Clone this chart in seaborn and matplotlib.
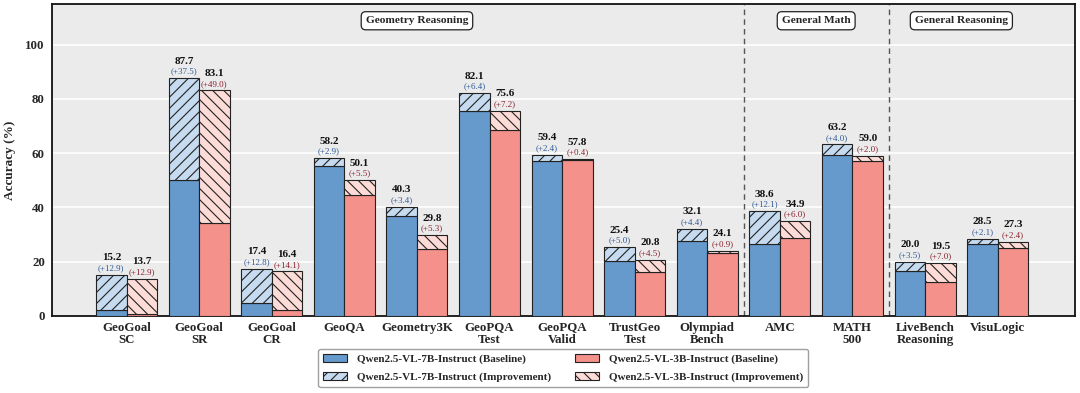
import numpy as np
import matplotlib
matplotlib.use("Agg")
import matplotlib.pyplot as plt
from matplotlib.patches import Patch
import seaborn as sns

# benchmark names (x tick labels)
benchmarks = ["GeoGoal\nSC", "GeoGoal\nSR", "GeoGoal\nCR", "GeoQA", "Geometry3K",
              "GeoPQA\nTest", "GeoPQA\nValid", "TrustGeo\nTest", "Olympiad\nBench",
              "AMC", "MATH\n500", "LiveBench\nReasoning", "VisuLogic"]

# final accuracy and gain over baseline
total_7b = [15.2, 87.7, 17.4, 58.2, 40.3, 82.1, 59.4, 25.4, 32.1, 38.6, 63.2, 20.0, 28.5]
gain_7b = [12.9, 37.5, 12.8, 2.9, 3.4, 6.4, 2.4, 5.0, 4.4, 12.1, 4.0, 3.5, 2.1]
total_3b = [13.7, 83.1, 16.4, 50.1, 29.8, 75.6, 57.8, 20.8, 24.1, 34.9, 59.0, 19.5, 27.3]
gain_3b = [12.9, 49.0, 14.1, 5.5, 5.3, 7.2, 0.4, 4.5, 0.9, 6.0, 2.0, 7.0, 2.4]

groups = ["Geometry Reasoning", "General Math", "General Reasoning"]
group_spans = [(0, 8), (9, 10), (11, 12)]

sns.set_theme(style="darkgrid", rc={"axes.facecolor": "#EBEBEB", "grid.color": "white",
                                     "grid.linewidth": 1.2})
plt.rcParams['font.family'] = ['Liberation Serif', 'DejaVu Serif']
plt.rcParams['font.weight'] = 'bold'
plt.rcParams['hatch.linewidth'] = 0.8

blue, blue_light, blue_txt = "#6699CC", "#C6DBEF", "#2F5A96"
red, red_light, red_txt = "#F4918A", "#FDDCD8", "#8B2230"

x = np.arange(len(benchmarks))
w = 0.42
base_7b = np.array(total_7b) - np.array(gain_7b)
base_3b = np.array(total_3b) - np.array(gain_3b)

fig, ax = plt.subplots(figsize=(10.8, 3.93), dpi=100)
fig.subplots_adjust(left=0.048, right=0.995, top=0.99, bottom=0.196)

ax.bar(x - w / 2, base_7b, w, color=blue, edgecolor="#222222", linewidth=0.8, zorder=3)
ax.bar(x - w / 2, gain_7b, w, bottom=base_7b, color=blue_light, edgecolor="#222222",
       hatch="///", linewidth=0.8, zorder=3)
ax.bar(x + w / 2, base_3b, w, color=red, edgecolor="#222222", linewidth=0.8, zorder=3)
ax.bar(x + w / 2, gain_3b, w, bottom=base_3b, color=red_light, edgecolor="#222222",
       hatch="\\\\\\", linewidth=0.8, zorder=3)

for xs, tot, gn, c in [(x - w / 2, total_7b, gain_7b, blue_txt), (x + w / 2, total_3b, gain_3b, red_txt)]:
    for xi, t, g in zip(xs, tot, gn):
        ax.annotate(f"(+{g:.1f})", (xi, t), xytext=(0, 4.8), textcoords="offset points",
                    ha="center", va="center", fontsize=6.5, color=c, fontweight="normal")
        ax.annotate(f"{t:.1f}", (xi, t), xytext=(0, 12.2), textcoords="offset points",
                    ha="center", va="center", fontsize=8, color="#111111", fontweight="bold")

for sep in [8.5, 10.5]:
    ax.axvline(sep, color="#555555", linestyle=(0, (4, 3)), linewidth=1, zorder=2)

for name, (a, b) in zip(groups, group_spans):
    ax.text((a + b) / 2, 108.8, name, ha="center", va="center", fontsize=8.2, fontweight="bold",
            bbox=dict(boxstyle="round,pad=0.4", fc="white", ec="#222222", lw=0.9))

ax.set_xlim(-1.03, 13.06)
ax.set_ylim(0, 115)
ax.set_yticks([0, 20, 40, 60, 80, 100])
ax.set_xticks(x)
ax.set_xticklabels(benchmarks, fontsize=9.3, fontweight="bold", linespacing=1.0)
ax.tick_params(axis="y", labelsize=9.3, length=0, pad=5)
ax.tick_params(axis="x", length=0, pad=4)
ax.set_ylabel("Accuracy (%)", fontsize=9.5, fontweight="bold", labelpad=7)
ax.grid(axis="x", visible=False)
ax.grid(axis="y", zorder=0)
for s in ax.spines.values():
    s.set_visible(True)
    s.set_color("#111111")
    s.set_linewidth(1.3)

handles = [Patch(fc=blue, ec="#222222", lw=0.8, label="Qwen2.5-VL-7B-Instruct (Baseline)"),
           Patch(fc=blue_light, ec="#222222", lw=0.8, hatch="///", label="Qwen2.5-VL-7B-Instruct (Improvement)"),
           Patch(fc=red, ec="#222222", lw=0.8, label="Qwen2.5-VL-3B-Instruct (Baseline)"),
           Patch(fc=red_light, ec="#222222", lw=0.8, hatch="\\\\\\", label="Qwen2.5-VL-3B-Instruct (Improvement)")]
leg = ax.legend(handles=handles, loc="upper center", bbox_to_anchor=(0.5, -0.106), ncol=2,
                fontsize=8, frameon=True, facecolor="white", edgecolor="#888888",
                columnspacing=2.2, handlelength=2.1, handletextpad=0.9, borderaxespad=0,
                labelspacing=0.75, borderpad=0.45)
for t in leg.get_texts():
    t.set_fontweight("bold")

plt.savefig("out.png", dpi=100)
